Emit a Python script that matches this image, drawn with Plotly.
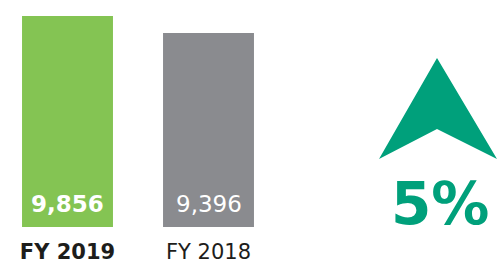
import plotly.graph_objects as go

categories = ["FY 2019", "FY 2018"]
values = [9856, 9396]
value_labels = ["9,856", "9,396"]
bar_colors = ["#84C453", "#8A8B8F"]
change_label = "5%"

W, H = 499, 259
T, B = 16, 32
PH = H - T - B

def px(x):
    return x / W

def py(y):
    return (H - B - y) / PH

FONT = "DejaVu Sans"
TEAL = "#00A07B"

fig = go.Figure()
fig.add_trace(go.Bar(
    x=[0, 1],
    y=values,
    width=0.645,
    marker=dict(color=bar_colors, line=dict(width=0)),
    hoverinfo="skip",
))

ticktext = [
    "<b>" + categories[0] + "</b>",
    categories[1],
]

annotations = []
for i, lab in enumerate(value_labels):
    annotations.append(dict(
        text=("<b>" + lab + "</b>") if i == 0 else lab,
        x=i, xref="x", y=py(204), yref="paper",
        xanchor="center", yanchor="middle", showarrow=False,
        font=dict(family=FONT, size=23, color="white"),
    ))
annotations.append(dict(
    text="<b>" + change_label + "</b>", xref="paper", yref="paper",
    x=px(439.5), y=py(204), xanchor="center", yanchor="middle",
    showarrow=False,
    font=dict(family=FONT, size=58, color=TEAL),
))

# arrow (decoration)
tip = (437, 58)
left = (379, 159)
right = (497, 159)
notch = (437, 129)
path = "M {} {} L {} {} L {} {} L {} {} Z".format(
    px(tip[0]), py(tip[1]), px(right[0]), py(right[1]),
    px(notch[0]), py(notch[1]), px(left[0]), py(left[1]))

fig.update_layout(
    width=W, height=H,
    margin=dict(l=0, r=0, t=T, b=B, pad=0, autoexpand=False),
    paper_bgcolor="white", plot_bgcolor="white",
    showlegend=False,
    xaxis=dict(
        range=[-67.5 / 141, (W - 67.5) / 141],
        tickvals=[0, 1], ticktext=ticktext,
        showgrid=False, zeroline=False, showline=False, ticks="",
        tickfont=dict(family=FONT, size=21, color="#1d1d1b"),
        ticklabelstandoff=10,
        automargin=False,
        fixedrange=True,
    ),
    yaxis=dict(
        range=[4147, 9856],
        visible=False, showgrid=False, zeroline=False,
        automargin=False,
        fixedrange=True,
    ),
    shapes=[dict(type="path", xref="paper", yref="paper", path=path,
                 fillcolor=TEAL, line=dict(width=0), layer="above")],
    annotations=annotations,
)

fig.write_html(
    "out.html",
    config={"displayModeBar": False},
    post_script="document.body.style.margin='0';document.body.style.overflow='hidden';",
)
